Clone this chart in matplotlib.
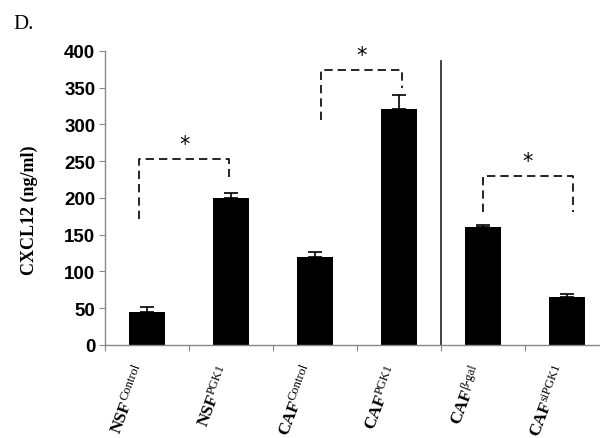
import matplotlib
matplotlib.use("Agg")
import numpy as np
import matplotlib.pyplot as plt
from matplotlib.textpath import TextPath
from matplotlib.font_manager import FontProperties
import matplotlib.transforms as mtransforms

# --- data ---
group_main = ["NSF", "NSF", "CAF", "CAF", "CAF", "CAF"]
group_sup = ["Control", "PGK1", "Control", "PGK1", "\u03b2-gal", "siPGK1"]
means = [45, 200, 120, 321, 160, 65]
errs = [7, 6, 7, 19, 3, 4]

# significance brackets: (x left, x right, top, left leg bottom, right leg bottom)
brackets = [(-0.09, 0.98, 253, 171, 228),
            (2.07, 3.04, 374, 306, 350),
            (4.0, 5.07, 230, 181, 181)]

fig = plt.figure(figsize=(6, 4.39), dpi=100)
ax = fig.add_axes([0.175, 0.212, 0.84, 0.67])

x = list(range(len(means)))
ax.bar(x, means, width=0.42, color='black', zorder=2)
ax.errorbar(x, means, yerr=[[0] * len(errs), errs], fmt='none',
            ecolor='black', elinewidth=1.2, capsize=5, capthick=1.2, zorder=3)

for xl, xr, top, bl, br in brackets:
    ax.plot([xl, xl, xr, xr], [bl, top, top, br], color='black',
            lw=1.2, ls=(0, (5, 3)), zorder=1)
    ax.text((xl + xr) / 2, top + 7, "*", ha='center', va='bottom',
            fontsize=15, fontfamily='DejaVu Sans')

# separator line between experiments
ax.plot([3.5, 3.5], [0, 386], color='#333333', lw=1.3, clip_on=False)

ax.set_xlim(-0.5, 5.5)
ax.set_ylim(0, 400)
ax.set_yticks(range(0, 401, 50))
ax.set_yticklabels([str(v) for v in range(0, 401, 50)],
                   fontfamily='Liberation Sans', fontweight='bold', fontsize=13.5)
ax.set_xticks([i - 0.5 for i in range(7)])
ax.set_xticklabels([])
ax.tick_params(axis='x', length=4, direction='out', color='#888888')
ax.tick_params(axis='y', length=4, direction='out', color='#888888', pad=3)

# rotated category labels: bold serif name with a smaller superscript
rot = 69
d = np.array([np.cos(np.radians(rot)), np.sin(np.radians(rot))])
perp = np.array([-d[1], d[0]])
main_size, sup_size, raise_pt = 12.5, 9, 3.5
sup_prop = FontProperties(family='Liberation Serif', size=sup_size)
trans = mtransforms.blended_transform_factory(ax.transData, ax.transAxes)
end = np.array([-1.5, -16.0])
for i, (m, s) in enumerate(zip(group_main, group_sup)):
    w_sup = TextPath((0, 0), s, prop=sup_prop).get_extents().width
    p_main = end - w_sup * d
    ax.annotate(m, xy=(i, 0), xycoords=trans, xytext=tuple(p_main),
                textcoords='offset points', rotation=rot, rotation_mode='anchor',
                ha='right', va='baseline', fontsize=main_size,
                fontfamily='Liberation Serif', fontweight='bold',
                annotation_clip=False)
    p_sup = p_main + raise_pt * perp
    ax.annotate(s, xy=(i, 0), xycoords=trans, xytext=tuple(p_sup),
                textcoords='offset points', rotation=rot, rotation_mode='anchor',
                ha='left', va='baseline', fontsize=sup_size,
                fontfamily='Liberation Serif', annotation_clip=False)

for s in ['top', 'right']:
    ax.spines[s].set_visible(False)
for s in ['left', 'bottom']:
    ax.spines[s].set_color('#888888')
    ax.spines[s].set_linewidth(1)

ax.set_ylabel("CXCL12 (ng/ml)", fontfamily='Liberation Serif',
              fontweight='bold', fontsize=13)
ax.yaxis.set_label_coords(-0.133, 0.46)

fig.text(0.022, 0.945, "D.", fontfamily='Liberation Serif', fontsize=15,
         ha='left', va='center')

fig.savefig("out.png", dpi=100)
